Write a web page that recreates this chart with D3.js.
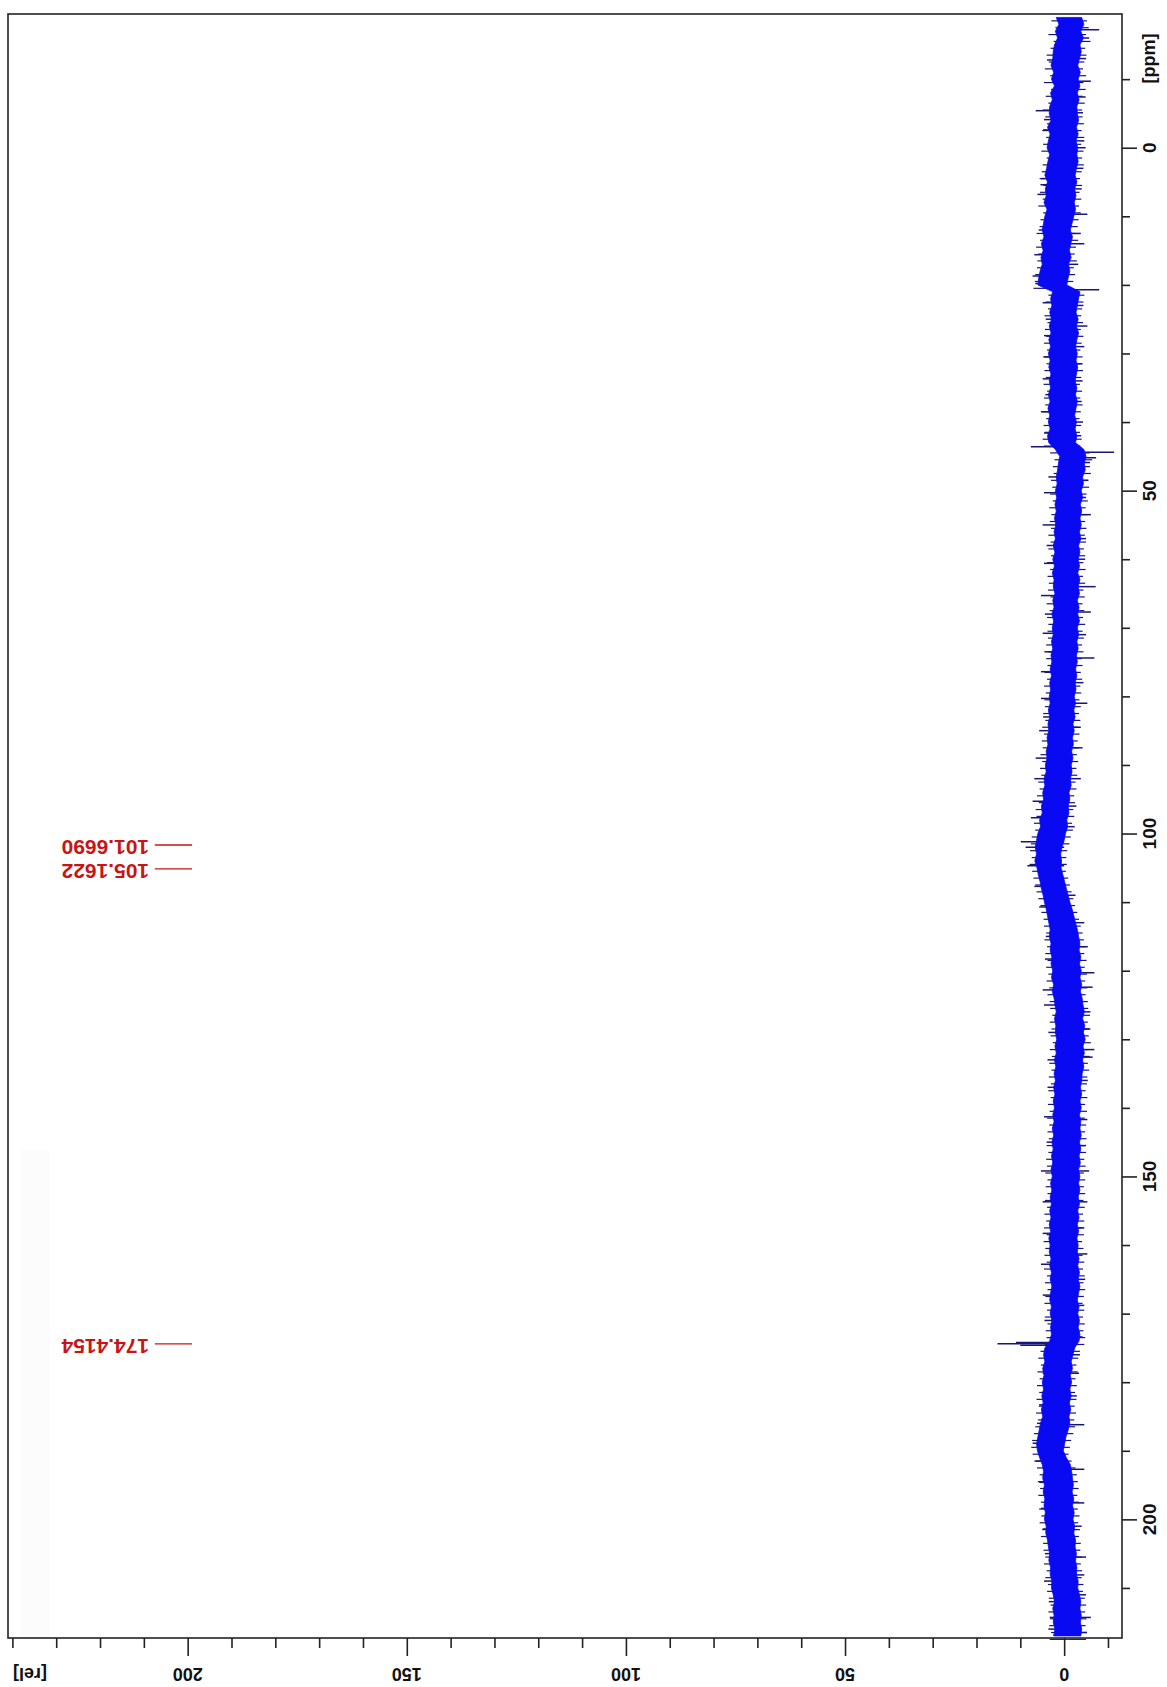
<!DOCTYPE html>
<html><head><meta charset="utf-8">
<script src="https://cdn.jsdelivr.net/npm/d3@7"></script>
<style>html,body{margin:0;padding:0;background:#fff}</style>
</head><body>
<svg id="c" width="1167" height="1687"></svg>
<script>
// ---- data ----
const ppmGrid = d3.range(-19, 218, 1); // sampling grid of the envelope, ppm
// dense noise core: left (high) and right (low) edge, rel
const bandHigh = [
 1.8,1.2,2.0,1.5,2.2,2.5,
 2.6,3.0,2.4,2.9,2.2,3.1,2.7,3.3,
 3.4,3.0,3.8,3.2,3.6,3.9,3.3,3.7,
 4.0,4.4,3.8,4.3,4.1,4.6,3.9,4.4,
 4.7,5.0,4.6,5.2,4.8,5.3,5.0,5.5,
 5.8,6.0,
 2.6,3.1,2.8,3.3,2.9,3.4,3.0,3.5,3.1,3.6,3.2,3.5,3.0,3.4,3.1,3.6,3.2,3.7,3.3,3.6,3.2,3.8,3.5,
 2.0,
 1.0,1.3,1.5,1.8,1.6,2.0,1.7,2.1,1.8,2.2,1.9,2.3,2.0,
 2.5,2.1,2.6,2.2,2.7,2.3,2.5,2.1,2.6,2.3,2.8,2.4,2.7,2.5,2.9,2.6,
 3.0,2.8,3.2,2.9,3.3,3.1,3.4,3.2,3.6,3.3,3.7,3.5,3.9,3.7,4.1,3.9,
 4.3,4.1,4.6,4.4,4.9,4.7,5.2,5.0,5.6,5.4,6.0,6.3,
 6.6,6.3,6.7,6.2,
 5.9,5.5,5.2,4.8,4.5,4.1,3.8,
 3.5,3.2,3.4,3.0,3.2,2.8,3.0,2.6,2.9,2.4,2.7,2.3,
 2.1,1.8,2.2,1.9,2.0,1.7,2.1,1.8,2.2,1.9,2.3,
 2.0,2.4,2.1,2.5,2.2,2.6,2.3,2.7,2.4,2.8,2.5,2.9,2.6,3.0,2.7,
 3.1,2.8,3.2,2.9,3.3,3.0,3.4,3.1,3.5,3.2,3.4,3.0,3.3,2.9,3.2,2.8,3.1,3.3,2.9,3.2,2.8,3.1,2.9,
 3.3,
 4.4,4.7,4.4,4.9,4.6,5.0,4.7,5.1,4.8,5.2,4.9,5.4,5.7,6.0,
 6.3,6.1,5.6,
 5.0,4.7,4.9,4.5,4.8,4.4,4.6,4.3,4.5,4.1,4.2,3.8,
 3.6,3.3,3.5,3.1,3.2,2.8,2.9,
 2.5,2.2,2.6,2.3,2.5,2.1,2.4
];
const bandLow = [
 -4.0,-4.5,-3.8,-4.4,-3.6,-3.9,
 -3.5,-3.1,-3.7,-3.2,-3.6,-3.0,-3.4,-2.9,
 -3.0,-3.3,-2.8,-3.2,-2.7,-3.1,-2.9,-3.2,
 -2.8,-2.5,-2.9,-2.4,-2.7,-2.3,-2.6,-2.2,
 -1.8,-1.4,-1.9,-1.5,-1.2,-1.6,-1.0,-1.3,
 -0.9,-0.6,
 -3.6,-3.3,-3.0,-2.7,-3.2,-2.8,-3.3,-2.9,-2.6,-3.0,-2.7,-3.1,-2.8,-2.5,-2.9,-2.6,-3.0,-2.7,-2.4,-2.8,-2.5,-2.9,-2.6,
 -4.5,
 -5.0,-4.6,-4.8,-4.2,-4.4,-3.9,-4.2,-3.7,-4.0,-3.6,-3.9,-3.5,-3.8,
 -3.3,-3.6,-3.2,-3.5,-3.1,-3.6,-3.2,-3.5,-3.0,-3.4,-3.1,-3.5,-3.0,-3.3,-2.9,-3.2,
 -2.8,-3.0,-2.6,-2.9,-2.5,-2.7,-2.3,-2.6,-2.2,-2.5,-2.0,-2.3,-1.9,-2.1,-1.7,-2.0,
 -1.6,-1.8,-1.4,-1.6,-1.1,-1.3,-0.9,-1.1,-0.6,-0.8,-0.3,0.0,
 0.5,0.8,0.6,0.7,
 0.3,-0.1,-0.5,-0.9,-1.3,-1.8,-2.2,
 -2.6,-3.0,-3.3,-3.6,-3.4,-3.8,-3.5,-3.9,-3.6,-4.0,-3.7,-4.1,
 -4.3,-4.6,-4.2,-4.7,-4.4,-4.8,-4.3,-4.6,-4.2,-4.5,-4.1,
 -4.0,-3.7,-4.0,-3.6,-3.9,-3.5,-3.8,-3.6,-3.9,-3.5,-3.8,-3.4,-3.7,-3.3,-3.6,
 -3.3,-3.6,-3.2,-3.5,-3.1,-3.4,-3.0,-3.3,-2.9,-3.2,-3.0,-3.4,-3.1,-3.5,-3.2,-3.6,-3.3,-3.0,-3.4,-3.1,-3.5,-3.2,-3.6,
 -3.4,
 -2.4,-2.0,-1.6,-1.9,-1.4,-1.7,-1.3,-1.6,-1.2,-1.5,-1.1,-1.3,-0.9,-0.4,
 -0.1,0.2,-0.5,
 -1.4,-1.7,-1.9,-2.1,-1.8,-2.2,-1.9,-2.3,-2.0,-2.4,-2.2,-2.6,
 -2.5,-2.8,-2.6,-2.9,-2.8,-3.2,-3.1,
 -3.5,-3.8,-3.6,-3.9,-3.7,-4.0,-3.8
];
// ragged fringe of the noise (outer excursions between grid points), rel
const fringeHigh = [
 2.9,2.0,3.6,2.4,3.1,4.0,
 3.5,4.4,3.2,4.6,3.0,4.2,3.6,4.9,
 4.3,3.9,5.0,4.1,4.8,5.2,4.0,4.9,
 5.1,5.6,4.7,5.5,4.9,5.9,4.8,5.4,
 5.6,6.3,5.5,6.4,5.9,6.1,6.2,6.6,
 6.7,7.0,
 3.6,4.2,3.7,4.5,3.8,4.4,4.1,4.6,3.9,4.8,4.0,4.5,4.2,4.7,3.9,4.6,4.3,4.9,4.1,4.7,4.4,4.9,4.6,
 3.2,
 2.2,2.6,2.4,3.0,2.7,3.2,2.6,3.4,2.9,3.3,3.0,3.6,3.1,
 3.6,3.0,3.9,3.2,3.8,3.5,3.7,3.1,4.0,3.3,3.9,3.6,3.8,3.7,4.1,3.6,
 4.1,3.8,4.5,3.9,4.6,4.2,4.5,4.4,4.8,4.3,5.0,4.6,5.1,4.9,5.4,5.0,
 5.5,5.2,5.9,5.6,6.2,5.8,6.5,6.3,6.9,6.6,7.4,7.6,
 7.8,7.4,7.9,7.3,
 7.0,6.6,6.3,5.9,5.4,5.2,4.7,
 4.6,4.1,4.5,3.9,4.3,3.8,4.1,3.6,4.0,3.4,3.8,3.3,
 3.2,2.7,3.3,2.9,3.1,2.6,3.3,2.8,3.4,2.9,3.5,
 3.0,3.6,3.1,3.7,3.3,3.9,3.4,3.8,3.5,4.0,3.6,4.1,3.9,4.3,3.8,
 4.2,3.8,4.4,3.9,4.5,4.1,4.6,4.0,4.7,4.3,4.5,4.0,4.6,3.9,4.4,3.8,4.3,4.5,3.9,4.4,3.8,4.2,4.0,
 4.4,
 5.4,5.9,5.3,6.1,5.6,6.2,5.7,6.3,5.8,6.4,6.0,6.6,6.9,7.3,
 7.5,7.2,6.8,
 6.2,5.6,6.0,5.5,5.9,5.3,5.7,5.2,5.6,5.0,5.3,4.8,
 4.7,4.3,4.6,4.0,4.3,3.7,3.9,
 3.5,3.1,3.6,3.2,3.4,3.0,3.3
];
const fringeLow = [
 -5.2,-5.6,-5.0,-6.0,-4.8,-5.1,
 -4.6,-4.3,-5.0,-4.4,-4.9,-4.2,-4.7,-4.1,
 -4.2,-4.5,-4.0,-4.6,-3.9,-4.4,-4.1,-4.5,
 -4.0,-3.6,-4.1,-3.5,-3.9,-3.4,-3.8,-3.3,
 -3.1,-2.6,-3.2,-2.7,-2.4,-2.9,-2.2,-2.5,
 -2.1,-1.8,
 -4.6,-4.4,-4.1,-3.9,-4.3,-3.8,-4.4,-4.0,-3.7,-4.2,-3.8,-4.3,-3.9,-3.6,-4.1,-3.7,-4.2,-3.8,-3.5,-3.9,-3.6,-4.0,-3.7,
 -5.8,
 -6.4,-5.9,-6.1,-5.5,-5.7,-5.1,-5.4,-4.9,-5.3,-4.8,-5.1,-4.7,-5.0,
 -4.5,-4.8,-4.4,-4.9,-4.3,-4.8,-4.4,-4.7,-4.2,-4.6,-4.3,-4.8,-4.2,-4.5,-4.1,-4.4,
 -4.0,-4.2,-3.8,-4.1,-3.7,-3.9,-3.5,-3.8,-3.4,-3.7,-3.2,-3.5,-3.1,-3.3,-2.9,-3.2,
 -2.8,-3.0,-2.6,-2.8,-2.3,-2.5,-2.1,-2.3,-1.8,-2.0,-1.5,-1.2,
 -0.7,-0.5,-0.6,-0.4,
 -0.9,-1.3,-1.7,-2.1,-2.5,-3.0,-3.4,
 -3.8,-4.2,-4.5,-4.9,-4.6,-5.1,-4.7,-5.2,-4.8,-5.3,-4.9,-5.4,
 -5.5,-5.9,-5.4,-6.0,-5.6,-6.1,-5.5,-5.8,-5.4,-5.7,-5.3,
 -5.2,-4.9,-5.3,-4.8,-5.2,-4.7,-5.0,-4.8,-5.1,-4.7,-5.0,-4.6,-4.9,-4.5,-4.8,
 -4.5,-4.8,-4.4,-4.7,-4.3,-4.6,-4.2,-4.5,-4.1,-4.4,-4.2,-4.6,-4.3,-4.7,-4.4,-4.8,-4.5,-4.2,-4.6,-4.3,-4.7,-4.4,-4.8,
 -4.6,
 -3.6,-3.2,-2.8,-3.1,-2.6,-2.9,-2.5,-2.8,-2.4,-2.7,-2.3,-2.5,-2.1,-1.6,
 -1.3,-1.0,-1.7,
 -2.6,-2.9,-3.1,-3.3,-3.0,-3.4,-3.1,-3.5,-3.2,-3.6,-3.4,-3.8,
 -3.7,-4.0,-3.8,-4.1,-4.0,-4.4,-4.3,
 -4.7,-5.0,-4.8,-5.1,-4.9,-5.2,-5.0
];
// isolated noise spikes / peaks: position (ppm) and intensity (rel)
const spikePpm = [
 -12.8,-5.4,-4.1,-2.6,4.5,5.4,6.8,12.0,15.6,18.7,19.8,22.6,25.0,27.4,30.5,33.7,36.0,38.5,41.6,43.6,
 48.0,50.3,55.0,58.0,60.6,65.3,68.0,70.8,73.5,76.4,80.3,83.0,85.0,89.0,92.0,95.3,97.7,101.2,102.0,104.7,
 107.7,110.7,115.0,118.3,122.8,125.0,129.0,133.0,137.0,141.3,145.0,149.2,153.7,158.3,162.8,167.3,171.0,
 174.2,174.4,174.6,178.7,183.3,186.0,188.9,191.5,194.6,198.4,201.4,205.0,209.0,212.0,214.3,216.0,
 -17.2,-16.0,-13.0,-9.7,-7.4,-5.1,-1.0,0.0,3.0,6.0,9.7,12.5,14.0,17.0,20.7,23.0,26.0,29.0,31.5,34.0,
 37.0,40.0,42.0,44.4,45.2,45.9,48.5,51.0,53.5,57.0,60.0,64.0,67.7,71.0,74.4,78.0,81.0,84.5,87.5,92.0,
 96.0,99.0,109.0,113.0,116.5,120.3,122.4,126.0,128.5,131.5,132.6,136.0,141.7,145.5,149.2,153.7,157.5,
 161.3,165.0,168.8,173.4,176.0,178.7,182.0,186.2,192.7,197.6,201.0,205.5,208.1,211.0,214.3,216.5
];
const spikeRel = [
 3.9,6.5,4.6,4.8,5.3,5.4,6.1,5.8,6.8,7.2,6.6,4.9,4.2,4.6,4.5,4.9,4.3,5.3,4.6,7.6,
 3.6,4.6,4.9,4.0,4.6,5.3,4.4,4.9,4.5,5.3,5.3,4.8,5.7,6.5,6.8,7.2,7.6,9.9,8.8,8.4,
 6.8,5.7,4.2,4.4,4.9,4.6,3.6,3.8,3.8,4.6,4.0,5.3,4.9,4.9,5.3,4.9,4.5,
 11.0,15.2,10.0,4.9,5.7,6.2,7.2,6.5,5.7,5.3,4.9,4.4,4.6,3.5,3.3,3.6,
 -8.0,-5.7,-5.0,-6.1,-4.9,-4.3,-4.6,-4.9,-4.4,-4.0,-5.3,-3.8,-4.6,-3.2,-8.0,-4.4,-5.3,-4.6,-4.2,-4.2,
 -4.0,-4.3,-3.9,-11.4,-7.3,-5.9,-5.5,-5.0,-6.1,-5.0,-4.8,-7.2,-6.1,-5.0,-6.9,-4.4,-5.3,-3.8,-4.2,-3.8,
 -2.8,-2.4,-2.6,-4.6,-5.4,-6.9,-6.5,-6.0,-5.8,-6.9,-6.5,-5.4,-5.3,-5.0,-5.7,-5.3,-4.6,
 -5.3,-4.8,-4.6,-4.2,-3.6,-3.4,-2.9,-4.6,-4.6,-4.6,-4.0,-5.0,-4.6,-5.0,-6.1,-5.2
];
const ppmMajorTicks = [0, 50, 100, 150, 200];
const ppmMinorTicks = [-10, 10, 20, 30, 40, 60, 70, 80, 90, 110, 120, 130, 140, 160, 170, 180, 190, 210];
const relMajorTicks = [0, 50, 100, 150, 200];
const relMinorTicks = [-10, 10, 20, 30, 40, 60, 70, 80, 90, 110, 120, 130, 140, 160, 170, 180, 190, 210, 220, 230, 240];
const peakPpm = [101.6690, 105.1622, 174.4154];
const peakLabels = ["101.6690", "105.1622", "174.4154"];
const ppmTitle = "[ppm]";
const relTitle = "[rel]";

// ---- scales ----
const svg = d3.select("#c");
const y = d3.scaleLinear().domain([-19.5, 217.3]).range([14, 1638]);
const x = d3.scaleLinear().domain([241, -13.2]).range([8, 1122]);
const FONT = "'Liberation Sans', Arial, sans-serif";

// very faint artefact band at left
svg.append("rect").attr("x", 20).attr("y", 1150).attr("width", 30).attr("height", 1638 - 1150)
  .attr("fill", "#fcfcfc");

// ---- spectrum ----
const gS = svg.append("g");
const NAVY = "#17177a";
const fr = ppmGrid.map((p, i) => ({p: p + 0.5, hi: fringeHigh[i], lo: fringeLow[i], c: (bandHigh[i] + bandLow[i]) / 2}));
gS.selectAll("line.fh").data(fr).join("line").attr("class", "fh")
  .attr("x1", d => x(d.c)).attr("x2", d => x(d.hi))
  .attr("y1", d => y(d.p)).attr("y2", d => y(d.p))
  .attr("stroke", NAVY).attr("stroke-width", 1.2);
gS.selectAll("line.fl").data(fr).join("line").attr("class", "fl")
  .attr("x1", d => x(d.c)).attr("x2", d => x(d.lo))
  .attr("y1", d => y(d.p)).attr("y2", d => y(d.p))
  .attr("stroke", NAVY).attr("stroke-width", 1.2);
const spikes = spikePpm.map((p, i) => ({p, v: spikeRel[i]}));
gS.selectAll("line.sp").data(spikes).join("line").attr("class", "sp")
  .attr("x1", x(0)).attr("x2", d => x(d.v))
  .attr("y1", d => y(d.p)).attr("y2", d => y(d.p))
  .attr("stroke", NAVY).attr("stroke-width", 1.5);
const band = ppmGrid.map((p, i) => ({p, hi: bandHigh[i], lo: bandLow[i]}));
const area = d3.area().y(d => y(d.p)).x0(d => x(d.hi)).x1(d => x(d.lo)).curve(d3.curveLinear);
gS.append("path").datum(band).attr("d", area)
  .attr("fill", "#0a0af2").attr("stroke", "#0a0af2").attr("stroke-width", 0.8);

// ---- frame ----
svg.append("rect").attr("x", x.range()[0]).attr("y", y.range()[0])
  .attr("width", x.range()[1] - x.range()[0]).attr("height", y.range()[1] - y.range()[0])
  .attr("fill", "none").attr("stroke", "#222").attr("stroke-width", 1.6);

// ---- ppm axis (right) ----
function styleAxis(g) {
  g.select(".domain").remove();
  g.selectAll(".tick line").attr("stroke", "#222").attr("stroke-width", 1.6);
  g.selectAll(".tick text").remove();
}
svg.append("g").attr("transform", `translate(${x.range()[1]},0)`)
  .call(d3.axisRight(y).tickValues(ppmMinorTicks).tickSize(8).tickFormat("")).call(styleAxis);
svg.append("g").attr("transform", `translate(${x.range()[1]},0)`)
  .call(d3.axisRight(y).tickValues(ppmMajorTicks).tickSize(15).tickFormat("")).call(styleAxis);
svg.selectAll("text.ppml").data(ppmMajorTicks).join("text").attr("class", "ppml")
  .attr("transform", d => `translate(1149,${y(d)}) rotate(-90)`)
  .attr("text-anchor", "middle").attr("dy", "0.36em")
  .style("font", `bold 19px ${FONT}`).attr("fill", "#111").text(d => d);
svg.append("text").attr("transform", `translate(1149,${y(-13)}) rotate(-90)`)
  .attr("text-anchor", "middle").attr("dy", "0.36em")
  .style("font", `bold 18px ${FONT}`).attr("fill", "#111").text(ppmTitle);

// ---- rel axis (bottom) ----
svg.append("g").attr("transform", `translate(0,${y.range()[1]})`)
  .call(d3.axisBottom(x).tickValues(relMinorTicks).tickSize(10).tickFormat("")).call(styleAxis);
svg.append("g").attr("transform", `translate(0,${y.range()[1]})`)
  .call(d3.axisBottom(x).tickValues(relMajorTicks).tickSize(18).tickFormat("")).call(styleAxis);
svg.selectAll("text.rell").data(relMajorTicks).join("text").attr("class", "rell")
  .attr("transform", d => `translate(${x(d)},1674) rotate(180)`)
  .attr("text-anchor", "middle").attr("dy", "0.36em")
  .style("font", `bold 18px ${FONT}`).attr("fill", "#111").text(d => d);
svg.append("text").attr("transform", `translate(${x(236)},1674) rotate(180)`)
  .attr("text-anchor", "middle").attr("dy", "0.36em")
  .style("font", `bold 18px ${FONT}`).attr("fill", "#111").text(relTitle);

// ---- peak labels ----
const gP = svg.append("g");
const peaks = peakPpm.map((p, i) => ({p, t: peakLabels[i]}));
gP.selectAll("line").data(peaks).join("line")
  .attr("x1", x(199)).attr("x2", x(207.5))
  .attr("y1", d => y(d.p)).attr("y2", d => y(d.p))
  .attr("stroke", "#c81414").attr("stroke-width", 1.3);
gP.selectAll("text").data(peaks).join("text")
  .attr("transform", d => `translate(${x(208.8)},${y(d.p) + 2.5}) rotate(180)`)
  .attr("text-anchor", "start").attr("dy", "0.36em")
  .style("font", `bold 21px ${FONT}`).attr("fill", "#c81414").text(d => d.t);
</script>
</body></html>
